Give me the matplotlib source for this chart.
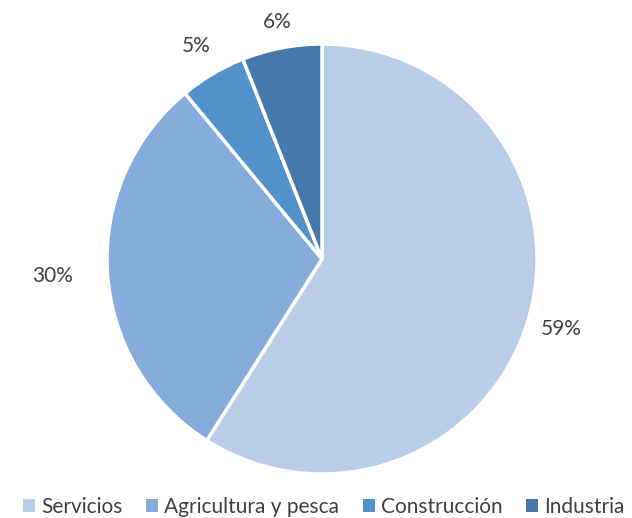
import numpy as np
import matplotlib.pyplot as plt
from matplotlib.patches import Patch

categories = ["Servicios", "Agricultura y pesca", "Construcción", "Industria"]
values = [59, 30, 5, 6]
colors = ["#B9CCE8", "#86ACDC", "#5391CB", "#4678AA"]
label_dist = [1.16, 1.255, 1.15, 1.12]

plt.rcParams['font.family'] = ['Lato', 'DejaVu Sans']
W, H = 632, 518
fig = plt.figure(figsize=(W / 100, H / 100), dpi=100)
ax = fig.add_axes([0, 0, 1, 1])

cx, cy, r = 322, H - 259, 215
wedges, _ = ax.pie(values, colors=colors, startangle=90, counterclock=False,
                   center=(cx, cy), radius=r, frame=True,
                   wedgeprops=dict(edgecolor='white', linewidth=2.5))
ax.set_xlim(0, W)
ax.set_ylim(0, H)
ax.set_aspect('equal')
ax.axis('off')

total = sum(values)
for w, v, d in zip(wedges, values, label_dist):
    ang = np.deg2rad((w.theta1 + w.theta2) / 2)
    x = cx + r * d * np.cos(ang)
    y = cy + r * d * np.sin(ang)
    ax.text(x, y, f"{round(100 * v / total)}%", ha='center', va='center',
            fontsize=15, color='#404040')

handles = [Patch(facecolor=c, edgecolor='none') for c in colors]
leg = ax.legend(handles, categories, loc='center', bbox_to_anchor=(324 / W, 11 / H),
                ncol=4, frameon=False, fontsize=15, handlelength=0.55,
                handleheight=0.55, handletextpad=0.3, columnspacing=1.15,
                labelcolor='#404040', borderpad=0, borderaxespad=0)

fig.savefig('out.png', dpi=100)
